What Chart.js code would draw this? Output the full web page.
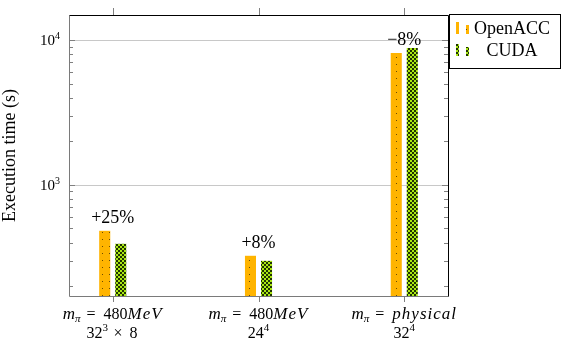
<!DOCTYPE html>
<html>
<head>
<meta charset="utf-8">
<script src="https://cdn.jsdelivr.net/npm/chart.js@4/dist/chart.umd.min.js"></script>
<style>
html, body { margin: 0; padding: 0; background: #fff; }
</style>
</head>
<body>
<canvas id="myChart" width="562" height="352"></canvas>
<script>
// data
const massNum = ['480', '480', ''];
const massUnit = ['MeV', 'MeV', 'physical'];
const latBase = ['32', '24', '32'];
const latExp = ['3', '4', '4'];
const latTimes = ['8', '', ''];
const openaccTimes = [482, 324, 8130];
const cudaTimes = [392, 299, 8810];
const diffLabels = ['+25%', '+8%', '\u22128%'];
const yMajor = [1000, 10000];
const yMajorExp = ['3', '4'];

const SERIF = '"Liberation Serif", "DejaVu Serif", serif';

function makeDots(){
	var c = document.createElement('canvas');
	c.width = 7; c.height = 7;
	var g = c.getContext('2d');
	g.fillStyle = 'rgb(255,180,0)';
	g.fillRect(0, 0, 7, 7);
	g.fillStyle = '#6b4a00';
	g.fillRect(4, 1, 1, 1);
	return c;
}

function makeCheck(){
	var c = document.createElement('canvas');
	c.width = 4; c.height = 4;
	var g = c.getContext('2d');
	g.fillStyle = 'rgb(170,232,20)';
	g.fillRect(0, 0, 4, 4);
	g.fillStyle = '#1f3300';
	g.fillRect(0, 0, 2, 2);
	g.fillRect(2, 2, 2, 2);
	return c;
}

var ctx = document.getElementById('myChart').getContext('2d');
var orangePat = ctx.createPattern(makeDots(), 'repeat');
var greenPat = ctx.createPattern(makeCheck(), 'repeat');

// draw a line made of runs with different fonts, centred on cx
function drawRuns(g, runs, cx, baseline){
	var total = 0;
	runs.forEach(function(r){
		g.font = r.f;
		g.letterSpacing = r.ls || '0px';
		r.w = g.measureText(r.t).width;
		total += r.w;
	});
	var x = cx - total / 2;
	g.textAlign = 'left';
	g.textBaseline = 'alphabetic';
	runs.forEach(function(r){
		g.font = r.f;
		g.letterSpacing = r.ls || '0px';
		g.fillText(r.t, x, baseline + (r.dy || 0));
		x += r.w;
	});
	g.letterSpacing = '0px';
}

const backPlugin = {
	id: 'back',
	beforeDatasetsDraw(chart){
		var g = chart.ctx, a = chart.chartArea, ys = chart.scales.y;
		g.save();
		g.strokeStyle = '#c8c8c8';
		g.lineWidth = 1;
		yMajor.forEach(function(v){
			var py = Math.round(ys.getPixelForValue(v)) + 0.5;
			g.beginPath(); g.moveTo(a.left, py); g.lineTo(a.right, py); g.stroke();
		});
		g.restore();
	}
};

const frontPlugin = {
	id: 'front',
	afterDraw(chart){
		var g = chart.ctx, a = chart.chartArea, xs = chart.scales.x, ys = chart.scales.y;
		g.save();
		g.lineWidth = 1;
		// y ticks, inward on both sides
		g.strokeStyle = '#808080';
		for (var e = 2; e <= 4; e++) {
			for (var m = 1; m <= 9; m++) {
				var v = m * Math.pow(10, e);
				if (v < ys.min || v > ys.max) continue;
				var py = Math.round(ys.getPixelForValue(v)) + 0.5;
				var len = (m == 1) ? 6 : 4;
				g.beginPath();
				g.moveTo(a.left, py); g.lineTo(a.left + len, py);
				g.moveTo(a.right, py); g.lineTo(a.right - len, py);
				g.stroke();
			}
		}
		// x ticks, outward top and bottom
		for (var i = 0; i < openaccTimes.length; i++) {
			var px = Math.round(xs.getPixelForValue(i)) + 0.5;
			g.beginPath();
			g.moveTo(px, a.top); g.lineTo(px, a.top - 7);
			g.moveTo(px, a.bottom); g.lineTo(px, a.bottom + 6);
			g.stroke();
		}
		// frame: left and bottom gray, top and right black
		var L = Math.round(a.left) + 0.5, R = Math.round(a.right) + 0.5;
		var T = Math.round(a.top) + 0.5, B = Math.round(a.bottom) + 0.5;
		g.strokeStyle = '#7a7a7a';
		g.beginPath(); g.moveTo(L, T); g.lineTo(L, B); g.lineTo(R, B); g.stroke();
		g.strokeStyle = '#000';
		g.beginPath(); g.moveTo(L, T); g.lineTo(R, T); g.lineTo(R, B); g.stroke();

		g.fillStyle = '#000';
		// y tick labels 10^k
		yMajor.forEach(function(v, k){
			var py = ys.getPixelForValue(v);
			g.font = '15px ' + SERIF;
			var w1 = g.measureText('10').width;
			g.font = '10px ' + SERIF;
			var w2 = g.measureText(yMajorExp[k]).width;
			var x0 = a.left - 9 - w1 - w2;
			g.textAlign = 'left'; g.textBaseline = 'alphabetic';
			g.font = '15px ' + SERIF;
			g.fillText('10', x0, py + 5);
			g.font = '10px ' + SERIF;
			g.fillText(yMajorExp[k], x0 + w1, py - 1);
		});
		// y title
		g.save();
		g.translate(10, (a.top + a.bottom) / 2);
		g.rotate(-Math.PI / 2);
		g.font = '18px ' + SERIF;
		g.textAlign = 'center'; g.textBaseline = 'middle';
		g.fillText('Execution time (s)', 0, 0);
		g.restore();
		// x category labels
		for (var i = 0; i < openaccTimes.length; i++) {
			var cx = xs.getPixelForValue(i);
			var line1 = [
				{t: 'm', f: 'italic 17px ' + SERIF},
				{t: '\u03c0', f: 'italic 11px ' + SERIF, dy: 3},
				{t: ' = ', f: '16px ' + SERIF, ls: '2px'},
				{t: massNum[i], f: '16px ' + SERIF},
				{t: massUnit[i], f: 'italic 17px ' + SERIF, ls: '1px'}
			];
			var line2 = [
				{t: latBase[i], f: '16px ' + SERIF},
				{t: latExp[i], f: '11px ' + SERIF, dy: -7},
				{t: latTimes[i] ? ' \u00d7 ' + latTimes[i] : '', f: '16px ' + SERIF, ls: '1.5px'}
			];
			drawRuns(g, line1, cx, a.bottom + 23);
			drawRuns(g, line2, cx, a.bottom + 42);
		}
		// percentage notes above the OpenACC bar
		g.font = '18px ' + SERIF;
		g.textAlign = 'center'; g.textBaseline = 'alphabetic';
		for (var i = 0; i < openaccTimes.length; i++) {
			var top = ys.getPixelForValue(openaccTimes[i]);
			g.fillText(diffLabels[i], xs.getPixelForValue(i), top - 8);
		}
		// legend box
		var lx = 449, ly = 14, lw = 111, lh = 54;
		g.fillStyle = '#fff';
		g.fillRect(lx, ly, lw, lh);
		g.strokeStyle = '#000';
		g.strokeRect(lx + 0.5, ly + 0.5, lw, lh);
		var names = ['OpenACC', 'CUDA'];
		var pats = [orangePat, greenPat];
		for (var k = 0; k < 2; k++) {
			var yy = ly + 8 + k * 22;
			g.fillStyle = pats[k];
			g.fillRect(lx + 7, yy, 3, 12);
			g.fillRect(lx + 17, yy + 3, 3, 9);
			g.fillStyle = '#000';
			g.font = '18px ' + SERIF;
			g.textAlign = 'center'; g.textBaseline = 'middle';
			g.fillText(names[k], lx + 63, yy + 7);
		}
		g.restore();
	}
};

var myChart = new Chart(ctx, {
	type: 'bar',
	data: {
		datasets: [{
			label: 'OpenACC',
			data: openaccTimes.map(function(v, i){ return {x: i, y: v}; }),
			backgroundColor: orangePat,
			borderWidth: 0,
			categoryPercentage: 0.22,
			barPercentage: 0.69
		}, {
			label: 'CUDA',
			data: cudaTimes.map(function(v, i){ return {x: i, y: v}; }),
			backgroundColor: greenPat,
			borderWidth: 0,
			categoryPercentage: 0.22,
			barPercentage: 0.69
		}]
	},
	options: {
		responsive: false,
		animation: false,
		layout: { padding: { left: 69, right: 114, top: 15, bottom: 56 } },
		plugins: { legend: { display: false }, tooltip: { enabled: false } },
		scales: {
			x: { type: 'linear', display: false, min: -0.3, max: 2.3, offset: false,
				ticks: { stepSize: 1, includeBounds: false } },
			y: { type: 'logarithmic', display: false, min: 171, max: 14870 }
		}
	},
	plugins: [backPlugin, frontPlugin]
});
</script>
</body>
</html>
